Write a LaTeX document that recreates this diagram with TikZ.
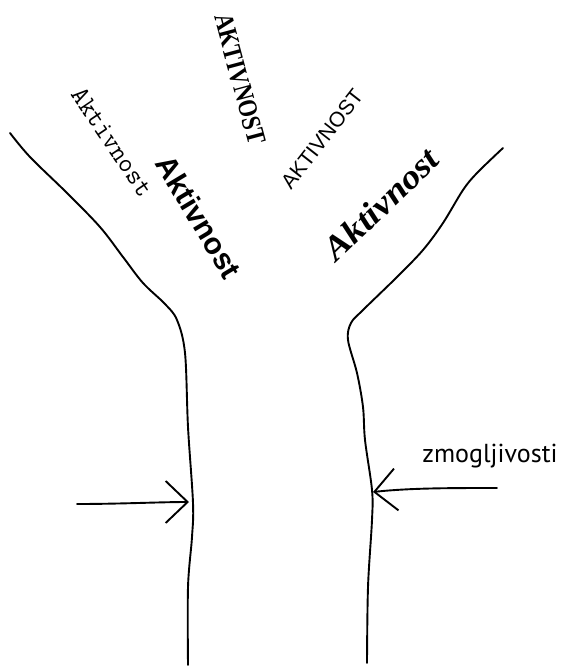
\documentclass[tikz,border=0pt]{standalone}
\usepackage{fontspec}
\setmainfont{Liberation Serif}
\newfontfamily\lsans{Liberation Sans}
\newfontfamily\ptsans{PT Sans}
\usetikzlibrary{arrows.meta}
\begin{document}
\begin{tikzpicture}[x=1pt,y=-1pt,
  stroke/.style={line width=1.9pt, line cap=round, line join=round},
  arr/.style={stroke, -{Straight Barb[length=22pt,width=42pt,line width=1.9pt]}},
  lbl/.style={inner sep=0pt, text=black}]
\useasboundingbox (0,0) rectangle (561,666);
% left wall
\draw[stroke] plot[smooth, tension=0.55] coordinates {(10,133) (30,157) (67,193) (100,227) (123,257) (143,283) (165,304) (177,320) (185,353) (188,427) (193,503) (192,537) (188,587) (188,665)};
% right wall
\draw[stroke] plot[smooth, tension=0.55] coordinates {(503,148) (477,173) (463,190) (443,223) (423,250) (397,277) (363,310) (351,323) (348,340) (357,373) (363,407) (365,440) (372,490) (372,520) (368,587) (367,663)};
% texts
\node[lbl, rotate=-56, font={\ttfamily\fontsize{27}{27}\selectfont}] (t1) at (112,142) {Aktivnost};
\node[lbl, rotate=-75, font={\bfseries\fontsize{27}{27}\selectfont}] (t2) at (240,79) {\scalebox{0.83}[1]{AKTIVNOST}};
\node[lbl, rotate=-59, font={\lsans\bfseries\fontsize{30}{30}\selectfont}] (t3) at (199,217) {Aktivnost};
\node[lbl, rotate=52, font={\lsans\fontsize{21}{21}\selectfont}] (t4) at (322,139) {AKTIVNOST};
\node[lbl, rotate=44, font={\bfseries\itshape\fontsize{34}{34}\selectfont}] (t5) at (381,204) {\scalebox{1.1}[1]{Aktivnost}};
\node[lbl, font={\ptsans\fontsize{26}{26}\selectfont}] (z) at (490,456) {zmogljivosti};
% arrows
\coordinate (la) at (77,504);
\coordinate (lt) at (189,502);
\coordinate (ra) at (497,488);
\coordinate (rt) at (373,492);
\draw[arr] (la) .. controls (120,504) and (160,502) .. (lt);
\draw[arr] (ra) .. controls (450,488) and (410,488) .. (rt);
\end{tikzpicture}
\end{document}
